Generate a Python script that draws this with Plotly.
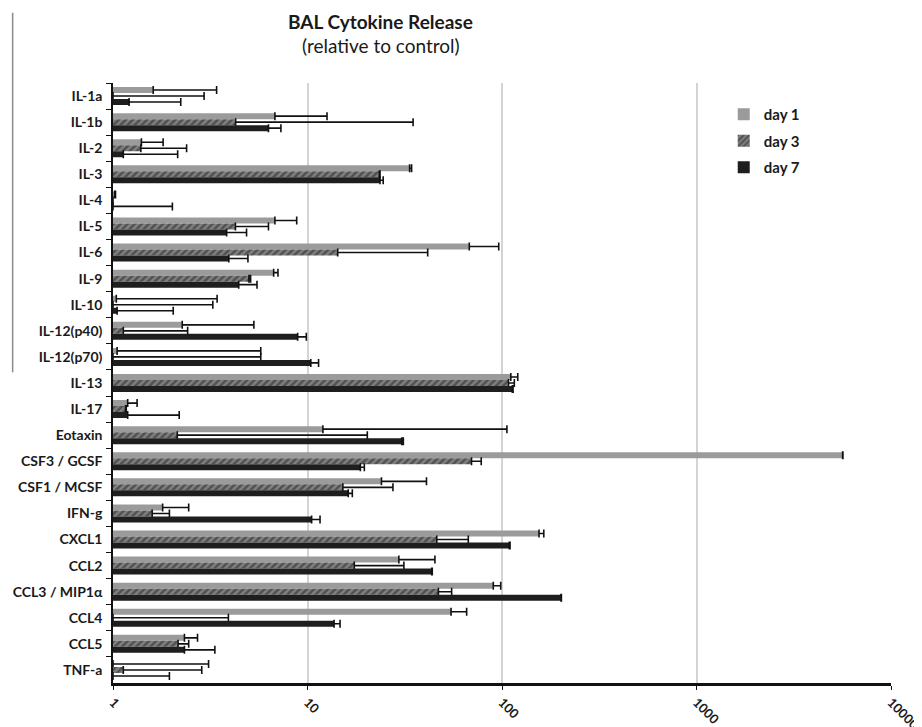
import plotly.graph_objects as go

categories = ["IL-1a", "IL-1b", "IL-2", "IL-3", "IL-4", "IL-5", "IL-6", "IL-9", "IL-10",
              "IL-12(p40)", "IL-12(p70)", "IL-13", "IL-17", "Eotaxin", "CSF3 / GCSF",
              "CSF1 / MCSF", "IFN-g", "CXCL1", "CCL2", "CCL3 / MIP1α", "CCL4", "CCL5", "TNF-a"]

day1 = [1.61, 6.8, 1.40, 33.5, 1.02, 6.8, 67.9, 6.7, 1.04, 2.27, 1.05, 111, 1.19, 12.0,
        5640, 24.0, 1.80, 155, 29.5, 90.2, 54.7, 2.33, 1.0]
day1_upper = [3.41, 12.6, 1.81, 34.3, 1.03, 8.8, 96.2, 7.05, 3.43, 5.3, 5.75, 120.5, 1.33, 106,
              5660, 40.9, 2.45, 164, 45.2, 98.5, 65.8, 2.72, 3.10]

day3 = [1.0, 4.27, 1.39, 23.4, 1.0, 4.26, 14.3, 5.0, 1.0, 1.13, 1.0, 108, 1.16, 2.14,
        69.7, 15.2, 1.59, 46.2, 17.4, 47.1, 1.0, 2.16, 1.13]
day3_upper = [2.94, 34.9, 2.39, 23.6, 1.0, 6.3, 41.5, 5.1, 3.26, 2.42, 5.75, 115.7, 1.17, 20.3,
              78.2, 27.5, 1.95, 67.1, 31.3, 55.1, 3.92, 2.45, 2.86]

day7 = [1.21, 6.3, 1.13, 23.6, 1.0, 3.84, 3.94, 4.43, 1.05, 8.9, 10.4, 113, 1.19, 30.5,
        18.7, 16.2, 10.5, 109, 43.5, 201, 13.7, 2.33, 1.0]
day7_upper = [2.23, 7.3, 2.15, 24.5, 2.02, 4.86, 4.94, 5.5, 2.04, 9.86, 11.4, 114, 2.19, 31.1,
              19.6, 17.0, 11.6, 110, 43.8, 202, 14.7, 3.34, 1.95]

series_names = ["day 1", "day 3", "day 7"]
x_tickvals = [1, 10, 100, 1000, 10000]
x_ticktext = ["1", "10", "100", "1000", "10000"]

FONT = "Lato"

def err(vals, upper):
    return dict(type="data", symmetric=False,
                array=[max(u - v, 0) for v, u in zip(vals, upper)],
                arrayminus=[0] * len(vals),
                color="#111111", thickness=1.6, width=4)

fig = go.Figure()
fig.add_trace(go.Bar(
    name=series_names[0], y=categories, x=day1, orientation="h",
    marker=dict(color="#9b9b9b", line=dict(width=0)),
    error_x=err(day1, day1_upper), legendgroup="a"))
fig.add_trace(go.Bar(
    name=series_names[1], y=categories, x=day3, orientation="h",
    marker=dict(color="#808080", line=dict(width=0),
                pattern=dict(shape="/", fgcolor="#222222", bgcolor="#808080",
                             size=5, solidity=0.5)),
    error_x=err(day3, day3_upper), legendgroup="b"))
fig.add_trace(go.Bar(
    name=series_names[2], y=categories, x=day7, orientation="h",
    marker=dict(color="#1e1e1e", line=dict(width=0)),
    error_x=err(day7, day7_upper), legendgroup="c"))

fig.update_layout(
    width=914, height=719,
    margin=dict(l=105, r=31, t=75, b=44, autoexpand=False),
    paper_bgcolor="white", plot_bgcolor="white",
    barmode="group", bargap=0.31, bargroupgap=0,
    font=dict(family=FONT, color="#1a1a1a"),
    showlegend=True,
    legend=dict(x=0.785, y=0.975, xanchor="left", yanchor="top",
                font=dict(family=FONT, size=15, color="#1a1a1a", weight="bold"),
                traceorder="grouped", tracegroupgap=4,
                bgcolor="rgba(0,0,0,0)"),
    xaxis=dict(type="log", range=[0, 4], tickvals=x_tickvals, ticktext=x_ticktext,
               tickangle=45, automargin=False, ticklabeloverflow="allow",
               tickfont=dict(family=FONT, size=13, color="#1a1a1a", weight="bold"),
               showgrid=True, gridcolor="#d4d4d4", gridwidth=1.5,
               showline=True, linecolor="#111111", linewidth=2.5,
               ticks="outside", ticklen=4, tickcolor="#111111", zeroline=False),
    yaxis=dict(type="category", autorange="reversed", automargin=False,
               tickfont=dict(family=FONT, size=14, color="#1a1a1a", weight="bold"),
               showline=True, linecolor="#111111", linewidth=1.5,
               ticks="outside", ticklen=5, tickcolor="#111111", tickson="boundaries",
               ticklabelstandoff=6, showgrid=False),
    annotations=[
        dict(text="<b>BAL Cytokine Release</b>", xref="paper", yref="paper",
             x=0.344, y=1.1017, xanchor="center", yanchor="middle", showarrow=False,
             font=dict(family=FONT, size=19, color="#1a1a1a")),
        dict(text="(relative to control)", xref="paper", yref="paper",
             x=0.344, y=1.0633, xanchor="center", yanchor="middle", showarrow=False,
             font=dict(family=FONT, size=19, color="#1a1a1a")),
    ],
    shapes=[dict(type="line", xref="paper", yref="paper", x0=-0.129, x1=-0.129,
                 y0=1.117, y1=0.518, line=dict(color="#8a8a8a", width=1.5))],
)

fig.write_html("out.html")
